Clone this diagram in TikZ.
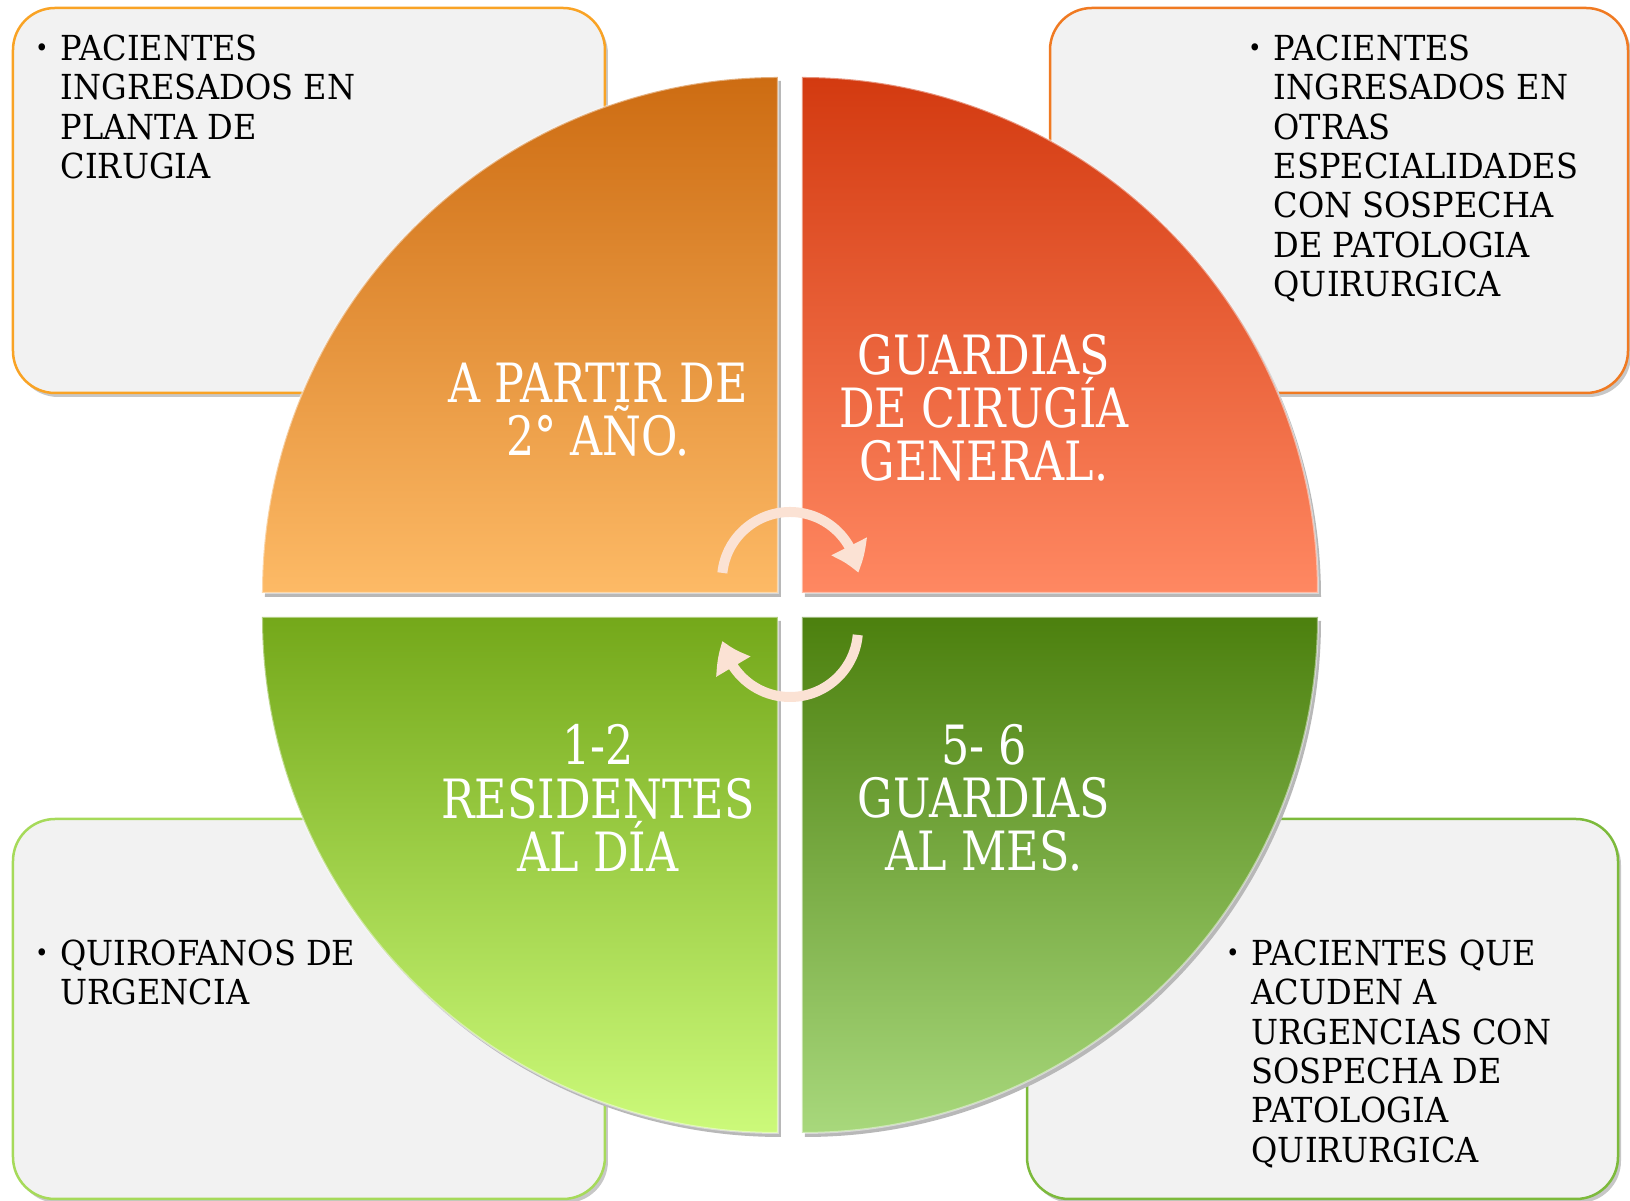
\documentclass[tikz,border=0pt]{standalone}
\usepackage{fontspec}
\setmainfont{DejaVu Serif}
\newfontfamily\boxfont[FakeStretch=0.93]{DejaVu Serif}
\newfontfamily\quadfont[FakeStretch=0.82]{DejaVu Serif}
\usetikzlibrary{arrows.meta,bending}

\definecolor{orangetop}{RGB}{205,108,18}
\definecolor{orangebot}{RGB}{253,186,102}
\definecolor{redtop}{RGB}{211,58,16}
\definecolor{redbot}{RGB}{255,136,98}
\definecolor{limetop}{RGB}{116,168,26}
\definecolor{limebot}{RGB}{204,250,122}
\definecolor{greentop}{RGB}{76,128,14}
\definecolor{greenbot}{RGB}{168,216,124}
\definecolor{boxgray}{RGB}{242,242,242}
\definecolor{boxorange}{RGB}{249,163,37}
\definecolor{boxred}{RGB}{240,122,34}
\definecolor{boxlime}{RGB}{166,218,90}
\definecolor{boxgreen}{RGB}{125,186,60}
\definecolor{arrowpeach}{RGB}{251,226,212}

\newcommand{\bulletmark}{\llap{\raisebox{1.1pt}{\fontsize{7}{7}\selectfont\textbullet}\hspace{0.12cm}}}

\begin{document}
\begin{tikzpicture}[x=0.01cm,y=0.01cm,
  infobox/.style={rounded corners=0.42cm,fill=boxgray,line width=0.025cm},
  boxshadow/.style={rounded corners=0.42cm,fill=black!22},
  quadshadow/.style={fill=black!28},
  quadedge/.style={draw=white,draw opacity=0.45,line width=0.02cm},
  boxtext/.style={anchor=north west,inner sep=0,align=left,font=\boxfont\fontsize{9.8}{11.2}\selectfont},
  quadtext/.style={inner sep=0,align=center,text=white,font=\quadfont\fontsize{15.4}{15.1}\selectfont},
  cyclearrow/.style={draw=arrowpeach,line width=0.1cm,-{Triangle[width=0.38cm,length=0.28cm,bend]}}]

\useasboundingbox (-790,-596) rectangle (840,605);

%-----------------------------------------------------
% side boxes
\fill [boxshadow] (-774,593) rectangle (-182,208);
\draw [infobox,draw=boxorange] (-777,597) rectangle (-185,212);

\fill [boxshadow] (263,593) rectangle (841,208);
\draw [infobox,draw=boxred] (260,597) rectangle (838,212);

\fill [boxshadow] (-774,-218) rectangle (-182,-598);
\draw [infobox,draw=boxlime] (-777,-214) rectangle (-185,-594);

\fill [boxshadow] (240,-218) rectangle (831,-598);
\draw [infobox,draw=boxgreen] (237,-214) rectangle (828,-594);

%-----------------------------------------------------
% quarters of the circle
\fill [quadshadow] (-9,8) -- (-9,524) arc[start angle=90,end angle=180,radius=516] -- cycle;
\shade [top color=orangetop,bottom color=orangebot] (-12,12) -- (-12,528) arc[start angle=90,end angle=180,radius=516] -- cycle;
\draw [quadedge] (-12,12) -- (-12,528) arc[start angle=90,end angle=180,radius=516] -- cycle;

\fill [quadshadow] (15,8) -- (531,8) arc[start angle=0,end angle=90,radius=516] -- cycle;
\shade [top color=redtop,bottom color=redbot] (12,12) -- (528,12) arc[start angle=0,end angle=90,radius=516] -- cycle;
\draw [quadedge] (12,12) -- (528,12) arc[start angle=0,end angle=90,radius=516] -- cycle;

\fill [quadshadow] (-9,-16) -- (-525,-16) arc[start angle=180,end angle=270,radius=516] -- cycle;
\shade [top color=limetop,bottom color=limebot] (-12,-12) -- (-528,-12) arc[start angle=180,end angle=270,radius=516] -- cycle;
\draw [quadedge] (-12,-12) -- (-528,-12) arc[start angle=180,end angle=270,radius=516] -- cycle;

\fill [quadshadow] (15,-16) -- (15,-532) arc[start angle=270,end angle=360,radius=516] -- cycle;
\shade [top color=greentop,bottom color=greenbot] (12,-12) -- (12,-528) arc[start angle=270,end angle=360,radius=516] -- cycle;
\draw [quadedge] (12,-12) -- (12,-528) arc[start angle=270,end angle=360,radius=516] -- cycle;

%-----------------------------------------------------
% texts
\node (ano) [quadtext] at (-192,195) {A PARTIR DE\\2° AÑO.};
\node (guardias) [quadtext] at (194,197) {GUARDIAS\\DE CIRUGÍA\\GENERAL.};
\node (residentes) [quadtext] at (-192,-193) {1-2\\RESIDENTES\\AL DÍA};
\node (mes) [quadtext] at (194,-193) {5- 6\\GUARDIAS\\AL MES.};

\node (planta) [boxtext] at (-730,571) {\bulletmark PACIENTES\\INGRESADOS EN\\PLANTA DE\\CIRUGIA};
\node (otras) [boxtext] at (483,571) {\bulletmark PACIENTES\\INGRESADOS EN\\OTRAS\\ESPECIALIDADES\\CON SOSPECHA\\DE PATOLOGIA\\QUIRURGICA};
\node (quirofanos) [boxtext] at (-730,-334) {\bulletmark QUIROFANOS DE\\URGENCIA};
\node (urgencias) [boxtext] at (461,-334) {\bulletmark PACIENTES QUE\\ACUDEN A\\URGENCIAS CON\\SOSPECHA DE\\PATOLOGIA\\QUIRURGICA};

%-----------------------------------------------------
% cycle arrows
\draw [cyclearrow] (0,25) ++(174:68) arc[start angle=174,end angle=6,radius=68];
\draw [cyclearrow] (0,-24) ++(-5:68) arc[start angle=-5,end angle=-170,radius=68];

\end{tikzpicture}
\end{document}
